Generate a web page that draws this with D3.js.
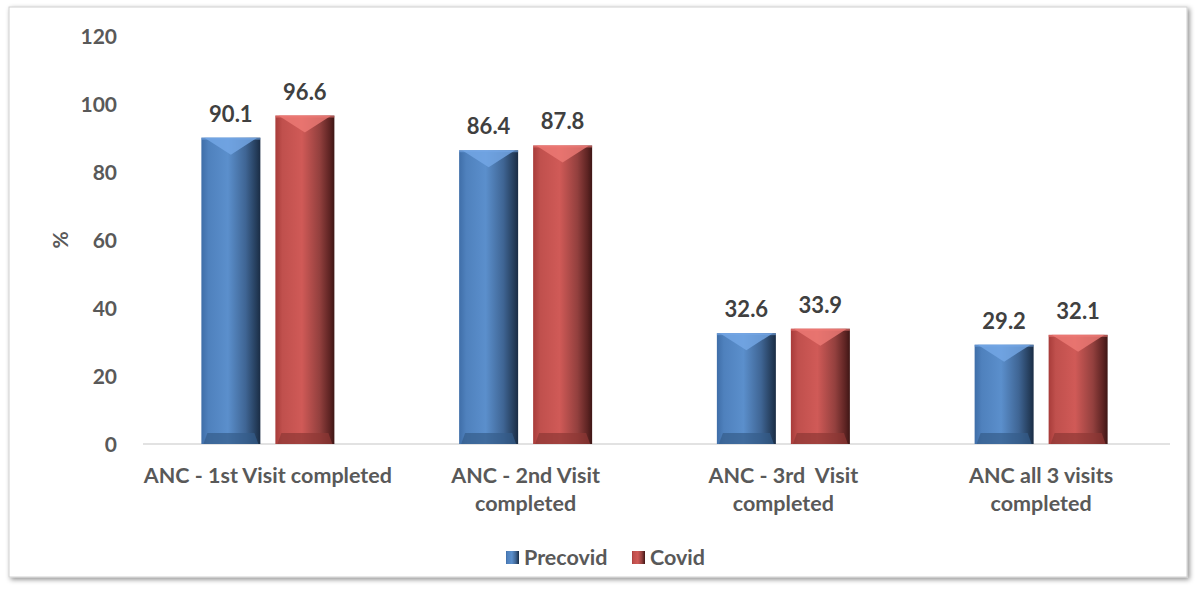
<!DOCTYPE html>
<html>
<head>
<meta charset="utf-8">
<script src="https://cdn.jsdelivr.net/npm/d3@7"></script>
<style>
  html, body { margin: 0; padding: 0; background: #ffffff; }
  svg { display: block; }
  text { font-family: Lato, "Open Sans", sans-serif; font-weight: bold; }
</style>
</head>
<body>
<svg id="chart" width="1197" height="590"></svg>
<script>
// Antenatal care visit completion, pre-COVID vs COVID period
const categories = [
  ["ANC - 1st Visit completed"],
  ["ANC - 2nd Visit", "completed"],
  ["ANC - 3rd  Visit", "completed"],
  ["ANC all 3 visits", "completed"]
];
const seriesNames = ["Precovid", "Covid"];
const precovid = [90.1, 86.4, 32.6, 29.2];
const covid = [96.6, 87.8, 33.9, 32.1];
const yTicks = [0, 20, 40, 60, 80, 100, 120];

const svg = d3.select("#chart");

// Frame with soft shadow
const defs = svg.append("defs");
const shadow = defs.append("filter").attr("id", "frameShadow")
  .attr("x", "-5%").attr("y", "-5%").attr("width", "110%").attr("height", "110%");
shadow.append("feDropShadow").attr("dx", 2).attr("dy", 2).attr("stdDeviation", 2.5)
  .attr("flood-color", "#000").attr("flood-opacity", 0.45);
svg.append("rect").attr("x", 9).attr("y", 7).attr("width", 1178).attr("height", 570)
  .attr("fill", "#fff").attr("stroke", "#d0d0d0").attr("stroke-width", 1)
  .attr("filter", "url(#frameShadow)");

const plot = { left: 139, right: 1170, top: 36, bottom: 444, axisLeft: 143 };

const x0 = d3.scaleBand().domain(d3.range(categories.length))
  .range([plot.left, plot.right]).paddingInner(0).paddingOuter(0);
const barW = 59, barGap = 15;
const y = d3.scaleLinear().domain([0, 120]).range([plot.bottom, plot.top]);

// Gradients for the bevelled bars
function makeGrad(id, stops) {
  const g = defs.append("linearGradient").attr("id", id)
    .attr("x1", "0").attr("x2", "1").attr("y1", "0").attr("y2", "0");
  stops.forEach(([o, c]) => g.append("stop").attr("offset", o).attr("stop-color", c));
}
makeGrad("gBlue", [[0, "#3f6ea8"], [0.12, "#4f81bd"], [0.45, "#5b8fcc"], [0.75, "#3f6594"], [0.92, "#263f5e"], [1, "#1a2c44"]]);
makeGrad("gRed", [[0, "#a83c3a"], [0.12, "#c0504d"], [0.45, "#d05a57"], [0.75, "#93403e"], [0.92, "#5e2423"], [1, "#3e1615"]]);
const topColor = ["#74a7e6", "#ee7a76"];
const baseColor = ["#355c8a", "#8e3735"];
const grads = ["url(#gBlue)", "url(#gRed)"];

// Y axis tick labels
const yAxis = d3.axisLeft(y).tickValues(yTicks).tickSize(0).tickPadding(0);
const yg = svg.append("g").attr("transform", `translate(117,0)`).call(yAxis);
yg.select(".domain").remove();
yg.selectAll("text").attr("font-size", 21).attr("fill", "#595959")
  .attr("font-family", "Lato, sans-serif").attr("font-weight", "bold")
  .attr("text-anchor", "end").attr("dy", "0.35em");

// Axis title
svg.append("text").attr("transform", `translate(61,${(plot.top + plot.bottom) / 2}) rotate(-90)`)
  .attr("text-anchor", "middle").attr("dy", "0.35em")
  .attr("font-size", 21).attr("fill", "#595959").text("%");

// Baseline
svg.append("line").attr("x1", plot.axisLeft).attr("x2", plot.right)
  .attr("y1", y(0)).attr("y2", y(0)).attr("stroke", "#d9d9d9").attr("stroke-width", 1.5);

// Bars
const data = categories.map((c, i) => ({ i, vals: [precovid[i], covid[i]] }));
const groups = svg.append("g").selectAll("g").data(data).join("g");
groups.each(function (d) {
  const g = d3.select(this);
  const cx = x0(d.i) + x0.bandwidth() / 2;
  d.vals.forEach((v, s) => {
    const bx = s === 0 ? cx - barGap / 2 - barW : cx + barGap / 2;
    const top = y(v), bot = y(0);
    g.append("rect").attr("x", bx).attr("y", top).attr("width", barW).attr("height", bot - top)
      .attr("fill", grads[s]);
    // lighter chevron at the top face
    g.append("path")
      .attr("d", `M${bx + 3},${top} L${bx + barW - 3},${top} L${bx + barW / 2},${top + 17} Z`)
      .attr("fill", topColor[s]).attr("opacity", 0.8);
    // darker lip at the base
    g.append("path")
      .attr("d", `M${bx + 2},${bot} L${bx + 6},${bot - 11} L${bx + barW - 6},${bot - 11} L${bx + barW - 2},${bot} Z`)
      .attr("fill", baseColor[s]).attr("opacity", 0.7);
    // top edge highlight
    g.append("rect").attr("x", bx).attr("y", top).attr("width", barW).attr("height", 2)
      .attr("fill", topColor[s]).attr("opacity", 0.6);
    // value label
    g.append("text").attr("x", bx + barW / 2).attr("y", top - 16)
      .attr("text-anchor", "middle").attr("font-size", 22).attr("fill", "#404040")
      .text(v.toFixed(1));
  });
  // category label
  const t = g.append("text").attr("x", cx).attr("y", 483)
    .attr("text-anchor", "middle").attr("font-size", 21.5).attr("fill", "#595959")
    .attr("xml:space", "preserve");
  categories[d.i].forEach((line, k) => {
    t.append("tspan").attr("x", cx).attr("dy", k === 0 ? 0 : 28).text(line);
  });
});

// Legend
const legend = svg.append("g");
const legendItems = [{ name: seriesNames[0], x: 506 }, { name: seriesNames[1], x: 632 }];
legendItems.forEach((it, s) => {
  legend.append("rect").attr("x", it.x).attr("y", 551).attr("width", 13).attr("height", 13)
    .attr("fill", grads[s]);
  legend.append("text").attr("x", it.x + 18).attr("y", 557).attr("dy", "0.35em")
    .attr("font-size", 21.5).attr("fill", "#595959").text(it.name);
});
</script>
</body>
</html>
